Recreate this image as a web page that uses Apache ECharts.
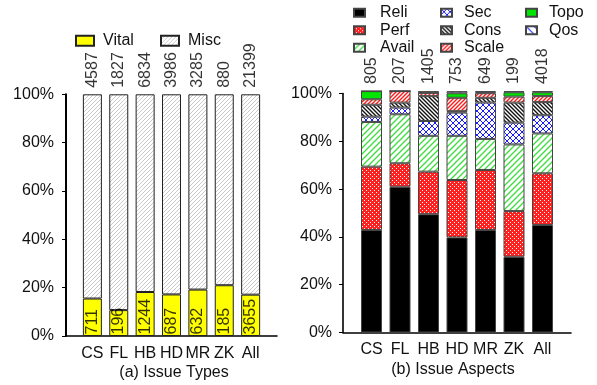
<!DOCTYPE html>
<html>
<head>
<meta charset="utf-8">
<script src="https://cdn.jsdelivr.net/npm/echarts@6/dist/echarts.min.js"></script>
<style>
html,body{margin:0;padding:0;background:#fff;}
#c{width:597px;height:385px;}
</style>
</head>
<body>
<div id="c"></div>
<script>
// ---- data ----
var categories = ['CS', 'FL', 'HB', 'HD', 'MR', 'ZK', 'All'];
var yTicks = [0, 20, 40, 60, 80, 100];
// (a) Issue Types
var vitalCounts = [711, 196, 1244, 687, 632, 185, 3655];
var typeTotals = [4587, 1827, 6834, 3986, 3285, 880, 21399];
var vitalPct = [15.5, 10.7, 18.2, 17.2, 19.2, 21.0, 17.1];
var miscPct = [84.5, 89.3, 81.8, 82.8, 80.8, 79.0, 82.9];
// (b) Issue Aspects
var aspectTotals = [805, 207, 1405, 753, 649, 199, 4018];
var reliPct = [42.9, 61.0, 49.5, 39.8, 42.9, 31.7, 45.0];
var perfPct = [26.5, 9.8, 17.8, 24.0, 25.1, 19.1, 21.6];
var availPct = [18.7, 20.5, 15.0, 18.5, 13.0, 27.9, 16.7];
var secPct = [2.2, 2.8, 6.2, 9.7, 15.2, 9.1, 7.6];
var consPct = [5.0, 2.1, 10.4, 0.6, 2.0, 8.4, 5.5];
var scalePct = [2.3, 4.8, 1.4, 5.6, 1.9, 2.5, 2.5];
var topoPct = [3.4, 0, 0, 1.9, 0.4, 1.8, 1.6];
var qosPct = [0, 0, 0.7, 0.9, 0.5, 0.5, 0.5];

// ---- patterns ----
function pat(size, bg, draw) {
  var c = document.createElement('canvas');
  c.width = size; c.height = size;
  var g = c.getContext('2d');
  if (bg) { g.fillStyle = bg; g.fillRect(0, 0, size, size); }
  draw(g, size);
  return { image: c, repeat: 'repeat' };
}
function diag(g, s, color, w, dir) {
  g.strokeStyle = color; g.lineWidth = w; g.beginPath();
  if (dir > 0) {
    g.moveTo(0, s); g.lineTo(s, 0);
    g.moveTo(-s / 2, s / 2); g.lineTo(s / 2, -s / 2);
    g.moveTo(s / 2, s * 1.5); g.lineTo(s * 1.5, s / 2);
  } else {
    g.moveTo(0, 0); g.lineTo(s, s);
    g.moveTo(-s / 2, s / 2); g.lineTo(s / 2, s * 1.5);
    g.moveTo(s / 2, -s / 2); g.lineTo(s * 1.5, s / 2);
  }
  g.stroke();
}
var P = {
  misc: pat(4, '#ffffff', function (g, s) { diag(g, s, '#b4b4b4', 0.7, 1); }),
  avail: pat(6, '#ffffff', function (g, s) { diag(g, s, '#3ddc3d', 1.3, 1); }),
  scale: pat(4, '#ffffff', function (g, s) { diag(g, s, '#ff1a1a', 1.4, 1); }),
  cons: pat(4, '#ffffff', function (g, s) { diag(g, s, '#111111', 1.4, -1); }),
  qos: pat(8, '#ffffff', function (g, s) { diag(g, s, '#2233ff', 1.2, -1); }),
  sec: pat(6, '#ffffff', function (g, s) { diag(g, s, '#1a1aff', 1, 1); diag(g, s, '#1a1aff', 1, -1); }),
  perf: pat(4, '#ff2020', function (g, s) { g.fillStyle = '#ffffff'; g.fillRect(0, 0, 1, 1); g.fillRect(2, 2, 1, 1); })
};

var FONT = 'Liberation Sans, Arial, Helvetica, sans-serif';
var TXT = '#111';

// padded category list: an empty slot on each side of the axis
var axisCats = [''].concat(categories, ['']);
function pad(arr) { return ['-'].concat(arr, ['-']); }
function constArr(v) { return categories.map(function () { return v; }); }

function xAxisCfg(gi, margin) {
  return {
    type: 'category', gridIndex: gi, data: axisCats, boundaryGap: false,
    axisLine: { show: true, onZero: false, lineStyle: { color: '#000', width: 1.6 } },
    axisTick: { show: false },
    splitLine: { show: false },
    axisLabel: { interval: 0, margin: margin, fontSize: 16, color: TXT, fontFamily: FONT }
  };
}
function yAxisCfg(gi, margin, w) {
  return {
    type: 'value', gridIndex: gi, min: 0, max: 100, interval: 20,
    axisLine: { show: true, lineStyle: { color: '#000', width: w } },
    axisTick: { show: true, inside: false, length: 4, lineStyle: { color: '#000', width: 1 } },
    splitLine: { show: false },
    axisLabel: { margin: margin, fontSize: 16, color: TXT, fontFamily: FONT, formatter: '{value}%' }
  };
}

function aspect(name, data, color) {
  return {
    name: name, type: 'bar', stack: 'b', xAxisIndex: 1, yAxisIndex: 1,
    barWidth: 21, clip: false, data: pad(data),
    itemStyle: { color: color, borderColor: '#444', borderWidth: 1 }
  };
}
function labelSeries(xi, yi, yv, dist, texts) {
  return {
    type: 'scatter', xAxisIndex: xi, yAxisIndex: yi, symbolSize: 1, z: 10, silent: true,
    itemStyle: { color: 'rgba(0,0,0,0)' },
    data: pad(constArr(yv)),
    label: {
      show: true, position: 'top', rotate: 90, align: 'left', verticalAlign: 'middle',
      distance: dist, fontSize: 16, color: '#000', fontFamily: FONT,
      formatter: function (p) { return String(texts[p.dataIndex - 1]); }
    }
  };
}

var legendText = { fontSize: 16, color: TXT, fontFamily: FONT, lineHeight: 17.5 };

var option = {
  animation: false,
  backgroundColor: '#fff',
  textStyle: { fontFamily: FONT },
  grid: [
    { left: 66, top: 94.3, width: 211, height: 241.7 },
    { left: 343, top: 93.5, width: 228, height: 239 }
  ],
  xAxis: [xAxisCfg(0, 10), xAxisCfg(1, 9)],
  yAxis: [yAxisCfg(0, 12, 2), yAxisCfg(1, 11, 1.6)],
  legend: [
    { data: ['Vital'], left: 75, top: 32, padding: 0, itemWidth: 18, itemHeight: 10, icon: 'rect',
      textStyle: Object.assign({ padding: [0, 0, 0, 4] }, legendText) },
    { data: ['Misc'], left: 160, top: 32, padding: 0, itemWidth: 18, itemHeight: 10, icon: 'rect',
      textStyle: Object.assign({ padding: [0, 0, 0, 4] }, legendText) },
    { data: ['Reli', 'Perf', 'Avail'], orient: 'vertical', left: 353, top: 4, padding: 0, itemGap: 0, icon: 'rect',
      itemWidth: 11, itemHeight: 8, textStyle: Object.assign({ padding: [0, 0, 0, 10] }, legendText) },
    { data: ['Sec', 'Cons', 'Scale'], orient: 'vertical', left: 440, top: 4, padding: 0, itemGap: 0, icon: 'rect',
      itemWidth: 11, itemHeight: 8, textStyle: Object.assign({ padding: [0, 0, 0, 7] }, legendText) },
    { data: ['Topo', 'Qos'], orient: 'vertical', left: 525, top: 4, padding: 0, itemGap: 0, icon: 'rect',
      itemWidth: 11, itemHeight: 8, textStyle: Object.assign({ padding: [0, 0, 0, 7] }, legendText) }
  ],
  graphic: [
    { type: 'text', x: 174, y: 372.5, style: { text: '(a) Issue Types', fontSize: 16, fontFamily: FONT, fill: TXT, align: 'center', verticalAlign: 'middle' } },
    { type: 'text', x: 453, y: 369.5, style: { text: '(b) Issue Aspects', fontSize: 16, fontFamily: FONT, fill: TXT, align: 'center', verticalAlign: 'middle' } }
  ],
  series: [
    {
      name: 'Vital', type: 'bar', stack: 'a', xAxisIndex: 0, yAxisIndex: 0, barWidth: 19,
      data: pad(vitalPct),
      itemStyle: { color: '#ffff00', borderColor: '#222', borderWidth: 1 }
    },
    {
      name: 'Misc', type: 'bar', stack: 'a', xAxisIndex: 0, yAxisIndex: 0, barWidth: 19,
      data: pad(miscPct),
      itemStyle: { color: P.misc, borderColor: '#222', borderWidth: 1 }
    },
    labelSeries(0, 0, 0, 1, vitalCounts),
    labelSeries(0, 0, 100, 6, typeTotals),
    aspect('Reli', reliPct, '#000000'),
    aspect('Perf', perfPct, P.perf),
    aspect('Avail', availPct, P.avail),
    aspect('Sec', secPct, P.sec),
    aspect('Cons', consPct, P.cons),
    aspect('Scale', scalePct, P.scale),
    aspect('Topo', topoPct, '#00e600'),
    aspect('Qos', qosPct, P.qos),
    labelSeries(1, 1, 100, 9, aspectTotals)
  ]
};
var chart = echarts.init(document.getElementById('c'), null, { renderer: 'canvas' });
chart.setOption(option);
</script>
</body>
</html>
